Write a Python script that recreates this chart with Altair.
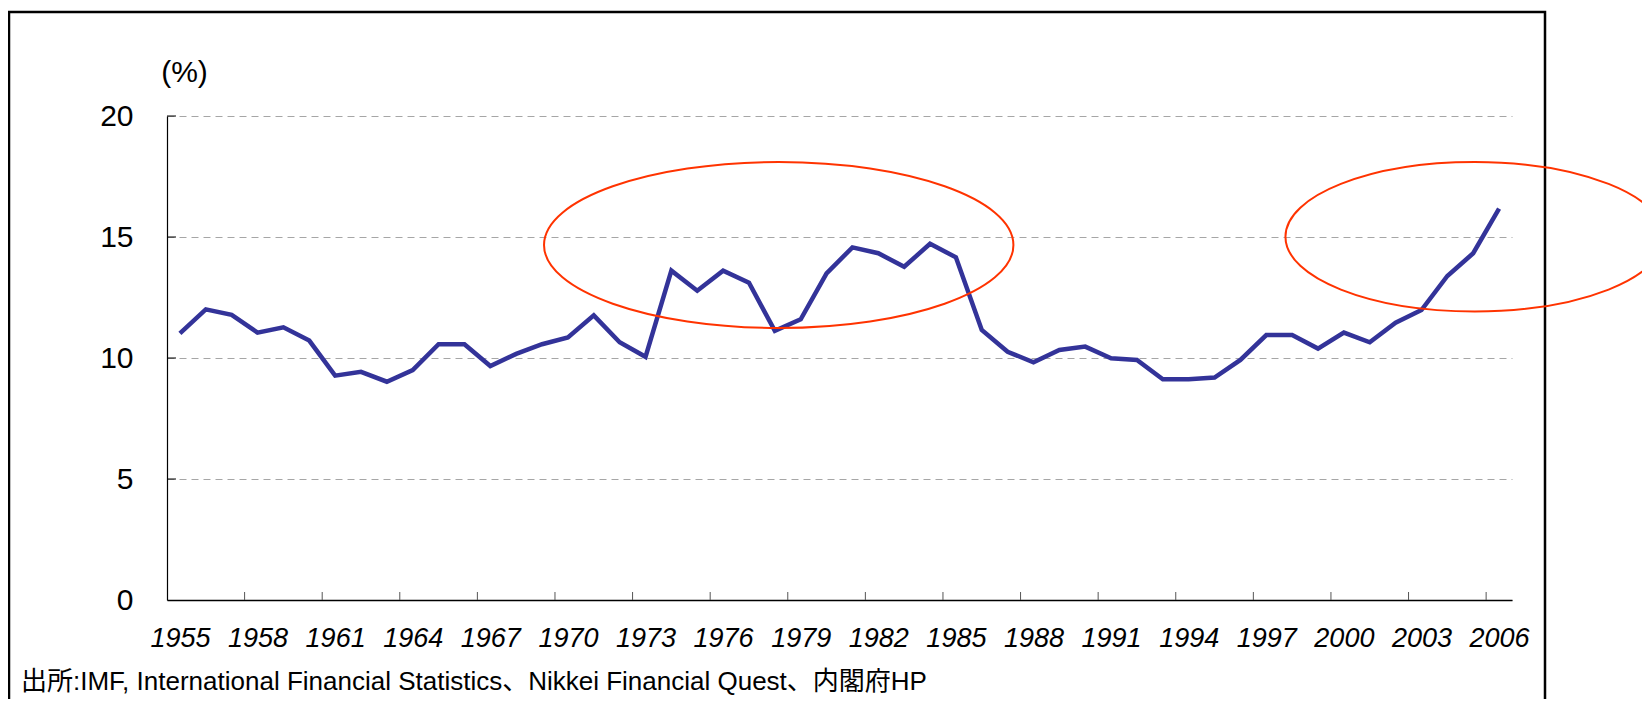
import altair as alt
import pandas as pd

# ---- data ----
years = list(range(1955, 2007))
values = [
    11.02, 12.01, 11.78, 11.05, 11.27, 10.72, 9.27, 9.43, 9.02, 9.50,
    10.57, 10.57, 9.67, 10.17, 10.57, 10.85, 11.76, 10.65, 10.05, 13.61,
    12.78, 13.61, 13.11, 11.12, 11.60, 13.50, 14.57, 14.33, 13.77, 14.72,
    14.16, 11.16, 10.26, 9.82, 10.33, 10.47, 9.99, 9.92, 9.12, 9.12,
    9.19, 9.92, 10.95, 10.95, 10.39, 11.05, 10.65, 11.46, 11.98, 13.39,
    14.33, 16.17,
]
label_years = list(range(1955, 2007, 3))
x_tick_positions = [y - 0.5 for y in range(1958, 2007, 3)]
y_tick_values = [5, 10, 15, 20]

# highlighted regions (center year, center value)
ellipse1_center = {"year": 1978.15, "value": 14.67}
ellipse2_center = {"year": 2005.06, "value": 15.01}

source_text = "出所:IMF, International Financial Statistics、Nikkei Financial Quest、内閣府HP"

FONT = "Liberation Sans, Arial, Noto Sans CJK JP, sans-serif"
W, H = 1345, 484

df = pd.DataFrame({"year": years, "value": values})

x_scale = alt.Scale(domain=[1954.5, 2006.5], nice=False, zero=False)
y_scale = alt.Scale(domain=[0, 20], nice=False)

line = alt.Chart(df).mark_line(color="#333399", strokeWidth=4.5, strokeJoin="miter").encode(
    x=alt.X("year:Q", scale=x_scale,
            axis=alt.Axis(values=label_years, format="d", ticks=False, tickSize=0,
                          grid=False, labelPadding=25, labelFontSize=27,
                          labelFontStyle="italic", labelFont=FONT, labelColor="black",
                          labelFlush=False, labelOverlap=False, title="",
                          domainColor="black", domainWidth=1.5)),
    y=alt.Y("value:Q", scale=y_scale,
            axis=alt.Axis(values=[0, 5, 10, 15, 20], grid=True, gridDash=[7, 5],
                          gridColor="#A6A6A6", gridWidth=1, ticks=False, tickSize=0,
                          labelPadding=34, labelFontSize=30, labelFont=FONT,
                          labelColor="black", title="(%)", titleAngle=0,
                          titleX=17, titleY=-44, titleAlign="center",
                          titleBaseline="middle", titleFontSize=30,
                          titleFontWeight="normal", titleFont=FONT, titleColor="black",
                          domainColor="black", domainWidth=1.2)),
)

ytick_df = pd.DataFrame({"value": y_tick_values})
yticks = alt.Chart(ytick_df).mark_rule(color="black", strokeWidth=1).encode(
    y=alt.Y("value:Q", scale=y_scale),
    x=alt.value(0), x2=alt.value(9),
)

xtick_df = pd.DataFrame({"year": x_tick_positions})
xticks = alt.Chart(xtick_df).mark_rule(color="#555555", strokeWidth=1).encode(
    x=alt.X("year:Q", scale=x_scale),
    y=alt.value(H), y2=alt.value(H - 8),
)

def ellipse_path(r):
    return f"M -1 0 A 1 {r} 0 1 0 1 0 A 1 {r} 0 1 0 -1 0 Z"

e1 = alt.Chart(pd.DataFrame([ellipse1_center])).mark_point(
    shape=ellipse_path(0.3537), size=4 * 234.7 ** 2, filled=False,
    color="#FF3300", strokeWidth=2, opacity=1,
).encode(
    x=alt.X("year:Q", scale=x_scale),
    y=alt.Y("value:Q", scale=y_scale),
)
e2 = alt.Chart(pd.DataFrame([ellipse2_center])).mark_point(
    shape=ellipse_path(0.3946), size=4 * 189.3 ** 2, filled=False,
    color="#FF3300", strokeWidth=2, opacity=1,
).encode(
    x=alt.X("year:Q", scale=x_scale),
    y=alt.Y("value:Q", scale=y_scale),
)

one = pd.DataFrame({"k": [0]})
source = alt.Chart(one).mark_text(
    text=source_text, align="left", baseline="alphabetic", fontSize=26,
    font=FONT, color="black",
).encode(x=alt.value(-146), y=alt.value(574))

frame = alt.Chart(one).mark_rect(
    fillOpacity=0, stroke="black", strokeWidth=2.5,
).encode(x=alt.value(-158), x2=alt.value(1378), y=alt.value(-104), y2=alt.value(640))

chart = alt.layer(line, frame, yticks, xticks, e1, e2, source).properties(
    width=W, height=H,
    autosize=alt.AutoSizeParams(type="none"),
    padding={"left": 159, "top": 108, "right": 130, "bottom": 99},
    background="white",
).configure_view(stroke=None)

chart.save("out.html", embed_options={"renderer": "svg", "actions": False})
